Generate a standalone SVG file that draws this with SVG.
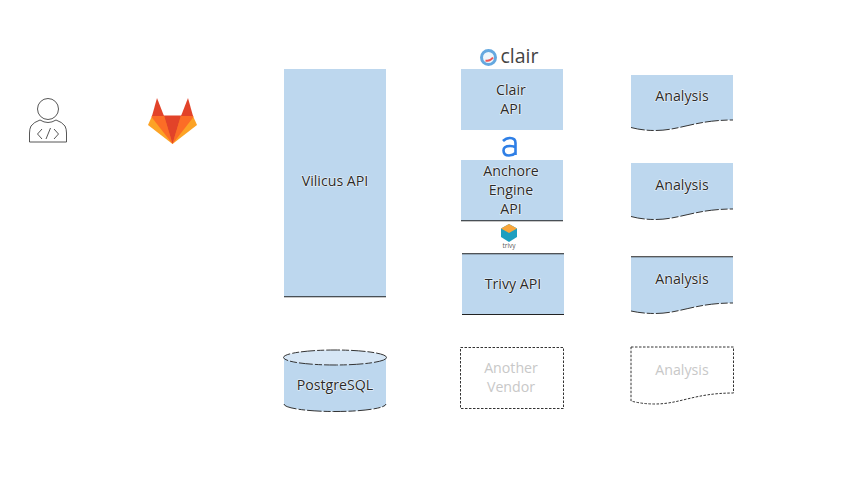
<svg xmlns="http://www.w3.org/2000/svg" width="853" height="480" viewBox="0 0 853 480">
<style>
.f{fill:#bdd7ee}
.t{font-family:"Open Sans","Noto Sans",sans-serif;font-size:14.2px;fill:#2a2a2a;stroke:#fff;stroke-opacity:.75;stroke-width:1.2px;paint-order:stroke;text-anchor:middle}
.g{font-family:"Open Sans","Noto Sans",sans-serif;font-size:14.2px;fill:#c8c8c8;text-anchor:middle}
.l{fill:none;stroke:#222;stroke-width:1.1}
.d{fill:none;stroke:#333;stroke-width:1;stroke-dasharray:14 2 7 2}
.k{fill:none;stroke:#333;stroke-width:1;stroke-dasharray:2.5 1.5}
.i{fill:none;stroke:#444;stroke-width:.9}
</style>
<rect width="853" height="480" fill="#fff"/>
<g id="connectors"/>
<g id="developer">
<circle class="i" cx="48" cy="109" r="10.500"/>
<path class="i" d="M40 120Q34 122 31 126Q29.500 129 29.500 133V142H66.500V133Q66.500 129 65 126Q62 122 56 120Q48 125 40 120Z"/>
<path class="i" stroke-width="1.200" d="M42 129L37.500 134L42 139M54 129L58.500 134L54 139M50.500 128L46 139"/>
</g>
<g id="gitlab">
<path fill="#fca326" d="M148 125L152 116H193L197 125L172.500 144Z"/>
<path fill="#fc6d26" d="M151.500 117L152 115.500H164L172.500 144Z"/>
<path fill="#fc6d26" d="M193.500 117L193 115.500H181L172.500 144Z"/>
<path fill="#e24329" d="M164 115.500H181L172.500 144Z"/>
<path fill="#e24329" d="M152 116L157 98L164 116Z"/>
<path fill="#e24329" d="M181 116L188 98L193 116Z"/>
</g>
<g id="vilicus">
<rect class="f" x="284" y="69" width="102" height="228"/>
<path class="l" d="M284 296.800H386"/>
<text class="t" x="335" y="186">Vilicus API</text>
</g>
<g id="clair-logo">
<circle cx="488.500" cy="57.500" r="7" fill="#eef6fc" stroke="#64a8e0" stroke-width="3"/>
<path d="M485.500 60.500Q490 61.500 493 57.500" fill="none" stroke="#e55" stroke-width="2"/>
<text x="519.500" y="63" font-family="Open Sans,sans-serif" font-size="19.500" fill="#444" text-anchor="middle">clair</text>
</g>
<g id="clair">
<rect class="f" x="461" y="69" width="102" height="61"/>
<text class="t" x="511" y="95">Clair</text>
<text class="t" x="511" y="114">API</text>
</g>
<g id="anchore-logo">
<path d="M503 141Q506 138 510 138Q515.500 138 515.500 143V155M515.500 147.500Q514 146 510 146Q503.500 146 503.500 150.500Q503.500 155.500 509 155.500Q513 155.500 515.500 153" fill="none" stroke="#2f7fe6" stroke-width="2.600"/>
</g>
<g id="anchore">
<rect class="f" x="461" y="160" width="102" height="61"/>
<path class="l" d="M461 220.800H563"/>
<text class="t" x="511" y="176">Anchore</text>
<text class="t" x="511" y="195">Engine</text>
<text class="t" x="511" y="214">API</text>
</g>
<g id="trivy-logo">
<path fill="#1e9fc0" d="M509 224L517 228.500V237L509 242L501 237V228.500Z"/>
<path fill="#f9a63a" d="M509 224L517 228.500L509 233L501 228.500Z"/>
<text x="509" y="248" font-family="Open Sans,sans-serif" font-size="6.500" fill="#555" text-anchor="middle">trivy</text>
</g>
<g id="trivy">
<rect class="f" x="462" y="253.500" width="102" height="61"/>
<path class="l" d="M462 253.700H564M462 314.500H564"/>
<text class="t" x="513" y="289">Trivy API</text>
</g>
<g id="another-vendor">
<rect class="k" x="460.500" y="347.500" width="103" height="61"/>
<text class="g" x="511" y="373">Another</text>
<text class="g" x="511" y="392">Vendor</text>
</g>
<g id="postgres">
<path class="f" d="M284 357.500V404A51 7.500 0 0 0 386 404V357.500Z"/>
<ellipse cx="335" cy="357.500" rx="51.500" ry="7.500" fill="#d6e6f5"/>
<ellipse class="d" cx="335" cy="357.500" rx="51.500" ry="7.500"/>
<path class="d" d="M284 404A51 7.500 0 0 0 386 404"/>
<text class="t" x="335" y="390">PostgreSQL</text>
</g>
<g id="analysis-1">
<path class="f" d="M631 75H733V120C695 120 680 130.500 655 130.500Q642 130.500 631 127.500Z"/>
<path class="d" d="M631 127.500Q642 130.500 655 130.500C680 130.500 695 120 733 120"/>
<text class="t" x="682" y="101">Analysis</text>
</g>
<g id="analysis-2">
<path class="f" d="M631 163H733V209C695 209 680 219.500 655 219.500Q642 219.500 631 216.500Z"/>
<path class="d" d="M631 216.500Q642 219.500 655 219.500C680 219.500 695 209 733 209"/>
<text class="t" x="682" y="190">Analysis</text>
</g>
<g id="analysis-3">
<path class="f" d="M631 257H733V303C695 303 680 313.500 655 313.500Q642 313.500 631 311Z"/>
<path class="l" d="M631 256.700H733"/>
<path class="d" d="M631 311Q642 313.500 655 313.500C680 313.500 695 303 733 303"/>
<text class="t" x="682" y="284">Analysis</text>
</g>
<g id="analysis-4">
<path class="k" d="M631 347H733.500V393C695 393 680 404 655 404Q642 404 631 401Z"/>
<text class="g" x="682" y="375">Analysis</text>
</g>
</svg>
